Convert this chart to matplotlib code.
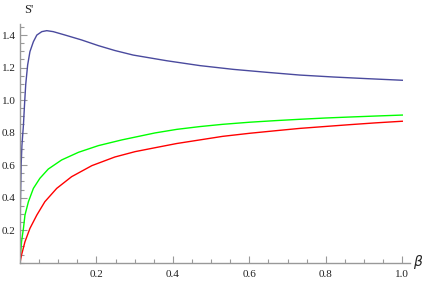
import numpy as np
import matplotlib.pyplot as plt
from matplotlib.ticker import MultipleLocator, FixedLocator

# values
blue_x = [0, 0.001, 0.003, 0.005, 0.009, 0.012, 0.015, 0.020, 0.026, 0.035,
          0.044, 0.057, 0.070, 0.087, 0.118, 0.161, 0.205, 0.248, 0.296,
          0.384, 0.471, 0.558, 0.645, 0.732, 0.82, 0.907, 1.0]
blue_y = [0, 0.35, 0.6, 0.72, 0.847, 0.98, 1.097, 1.216, 1.298, 1.359,
          1.40, 1.421, 1.427, 1.421, 1.40, 1.370, 1.335, 1.305, 1.277,
          1.242, 1.212, 1.189, 1.171, 1.154, 1.142, 1.132, 1.122]

green_x = [0, 0.004, 0.009, 0.013, 0.022, 0.035, 0.052, 0.074, 0.109, 0.153,
           0.205, 0.266, 0.353, 0.41, 0.47, 0.53, 0.601, 0.67, 0.732, 0.8,
           0.863, 0.93, 1.0]
green_y = [0, 0.129, 0.211, 0.293, 0.375, 0.457, 0.519, 0.576, 0.632, 0.679,
           0.720, 0.755, 0.798, 0.82, 0.837, 0.851, 0.864, 0.874, 0.882, 0.89,
           0.896, 0.902, 0.908]

red_x = [0, 0.004, 0.013, 0.026, 0.044, 0.065, 0.096, 0.135, 0.188, 0.248,
         0.301, 0.353, 0.41, 0.47, 0.53, 0.601, 0.67, 0.732, 0.8, 0.863,
         0.93, 1.0]
red_y = [0, 0.047, 0.129, 0.211, 0.293, 0.375, 0.457, 0.529, 0.597, 0.650,
         0.683, 0.707, 0.733, 0.755, 0.777, 0.796, 0.812, 0.826, 0.838, 0.849,
         0.86, 0.87]

x_ticks = [0.2, 0.4, 0.6, 0.8, 1.0]
y_ticks = [0.2, 0.4, 0.6, 0.8, 1.0, 1.2, 1.4]

plt.rcParams['font.family'] = ['Liberation Serif', 'DejaVu Serif']
W, H = 436, 282
fig = plt.figure(figsize=(W / 100, H / 100), dpi=100)

x0, y0 = 20.0, 262.7          # pixel position of the origin
sx, sy = 382.3, 162.6         # pixels per unit
xmax, ymax = 1.021, 1.468
ax = fig.add_axes([x0 / W, (H - y0) / H, xmax * sx / W, ymax * sy / H])

ax.plot(blue_x, blue_y, color='#4a4a9e', lw=1.0)
ax.plot(green_x, green_y, color='#00ff00', lw=1.0)
ax.plot(red_x, red_y, color='#ff0000', lw=1.0)

ax.set_xlim(0, xmax)
ax.set_ylim(0, ymax)
for s in ['top', 'right']:
    ax.spines[s].set_visible(False)
for s in ['left', 'bottom']:
    ax.spines[s].set_color('#999999')
    ax.spines[s].set_linewidth(1.0)

ax.xaxis.set_major_locator(FixedLocator(x_ticks))
ax.yaxis.set_major_locator(FixedLocator(y_ticks))
ax.xaxis.set_minor_locator(MultipleLocator(0.05))
ax.yaxis.set_minor_locator(MultipleLocator(0.05))
ax.set_xticklabels([f'{v:.1f}' for v in x_ticks])
ax.set_yticklabels([f'{v:.1f}' for v in y_ticks])
ax.tick_params(which='both', direction='in', color='#999999', width=0.8,
               labelsize=8, labelcolor='#222222')
ax.tick_params(which='major', length=5)
ax.tick_params(which='minor', length=3)
ax.tick_params(axis='x', pad=5)
ax.tick_params(axis='y', pad=3)

fig.text(418 / W, 1 - 262 / H, r'$\beta$', fontsize=10, ha='center', va='center',
         color='#222222')
fig.text(29 / W, 1 - 10 / H, "S'", fontsize=9, ha='center', va='center',
         color='#222222')

fig.savefig('out.png', dpi=100)
